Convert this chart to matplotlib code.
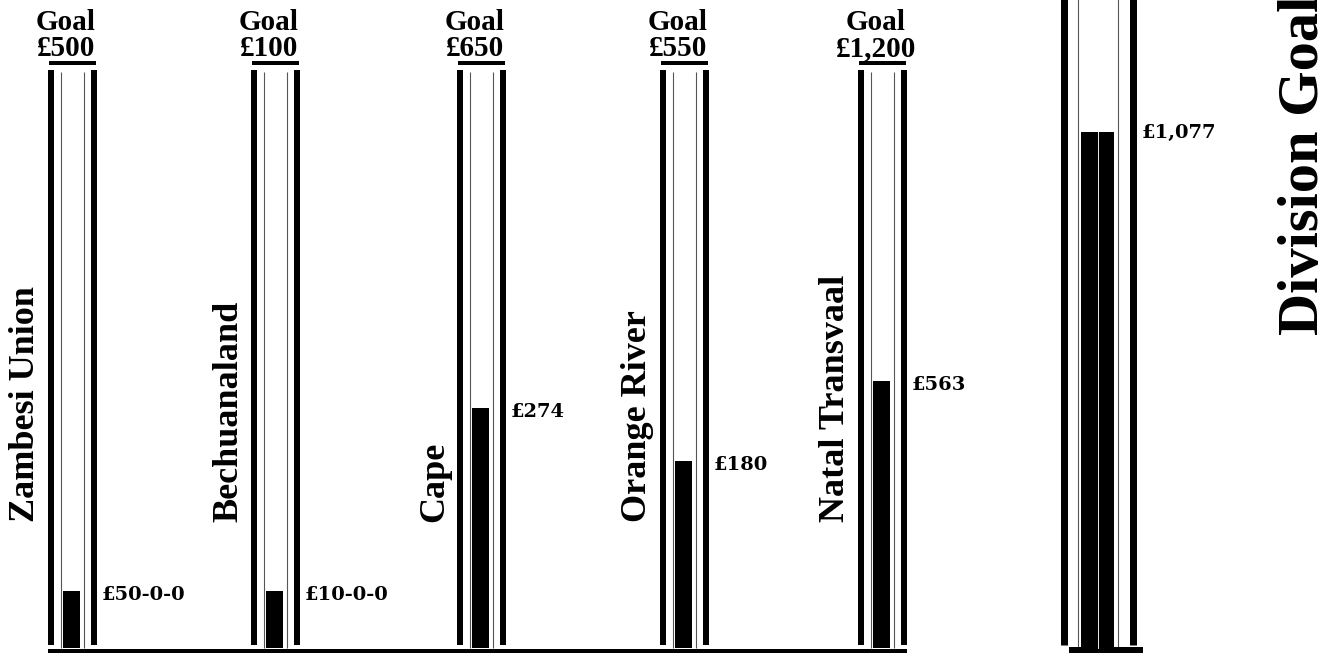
import matplotlib
matplotlib.use("Agg")
import matplotlib.pyplot as plt

# values
regions = ["Zambesi Union", "Bechuanaland", "Cape", "Orange River", "Natal Transvaal"]
goals = [500, 100, 650, 550, 1200]
goal_labels = ["£500", "£100", "£650", "£550", "£1,200"]
raised = [50, 10, 274, 180, 563]
raised_labels = ["£50-0-0", "£10-0-0", "£274", "£180", "£563"]
division_title = "Division Goal"
division_raised = sum(raised)
division_label = "£{:,}".format(division_raised)

# layout, in pixels of the 1322x654 picture
W, H = 1322, 654
base_row = 648          # pixel row where the tubes stand
tube_h = 570            # height of a full (goal) tube
tube_top = 578
centers = [72, 275, 481, 684, 882]
div_center = 1098
div_scale = 1190        # pounds shown by one tube height in the division column
PT = 0.72               # points per pixel at dpi 100

plt.rcParams["font.family"] = ["Liberation Serif", "DejaVu Serif"]

fig = plt.figure(figsize=(W / 100, H / 100), dpi=100)
ax = fig.add_axes([0, 0, 1, 1])
ax.set_xlim(0, W)
ax.set_ylim(-(H - base_row), base_row)
ax.axis("off")


def tube(c, half_out, half_in, top, lw_out):
    """the glass: two heavy outer walls and two thin inner ones"""
    for dx in (-half_out, half_out):
        ax.plot([c + dx, c + dx], [3, top], color="black", lw=lw_out * PT,
                solid_capstyle="butt")
    for dx in (-half_in, half_in):
        ax.plot([c + dx, c + dx], [0, top - 2], color="#555555", lw=1.1 * PT,
                solid_capstyle="butt")


# regional tubes
heights = [r / g * tube_h for r, g in zip(raised, goals)]
for c in centers:
    tube(c, 21.5, 11.5, tube_top, 6)
    ax.plot([c - 23, c + 24], [585, 585], color="black", lw=4 * PT,
            solid_capstyle="butt")
ax.bar([c - 0.5 for c in centers], heights, width=17, color="black", zorder=3)

for c, h, name, gl, rl in zip(centers, heights, regions, goal_labels, raised_labels):
    ax.text(c - 6, 592, "Goal\n" + gl, ha="center", va="baseline", fontsize=21,
            fontweight="bold", linespacing=0.95, multialignment="center")
    ax.text(c - 38, 126, name, rotation=90, rotation_mode="anchor", ha="left",
            va="baseline", fontsize=26, fontweight="bold")
    ax.text(c + 30, h - 4, rl, ha="left", va="center", fontsize=14,
            fontweight="bold", family="DejaVu Serif")

ax.plot([48, 907], [-3, -3], color="black", lw=4 * PT, solid_capstyle="butt")

# division tube, running off the top of the picture
div_h = division_raised / div_scale * tube_h
tube(div_center, 34.5, 20, 700, 7)
ax.bar(div_center - 0.5, div_h, width=33, color="black", zorder=3)
ax.plot([div_center, div_center], [0, div_h], color="white", lw=0.9 * PT, zorder=4)
ax.plot([1069, 1143], [-2, -2], color="black", lw=6 * PT, solid_capstyle="butt")
ax.text(div_center + 44, div_h - 1, division_label, ha="left", va="center",
        fontsize=14, fontweight="bold", family="DejaVu Serif")
ax.text(1318, 313, division_title, rotation=90, rotation_mode="anchor",
        ha="left", va="baseline", fontsize=42, fontweight="bold")

fig.savefig("out.png", dpi=100)
